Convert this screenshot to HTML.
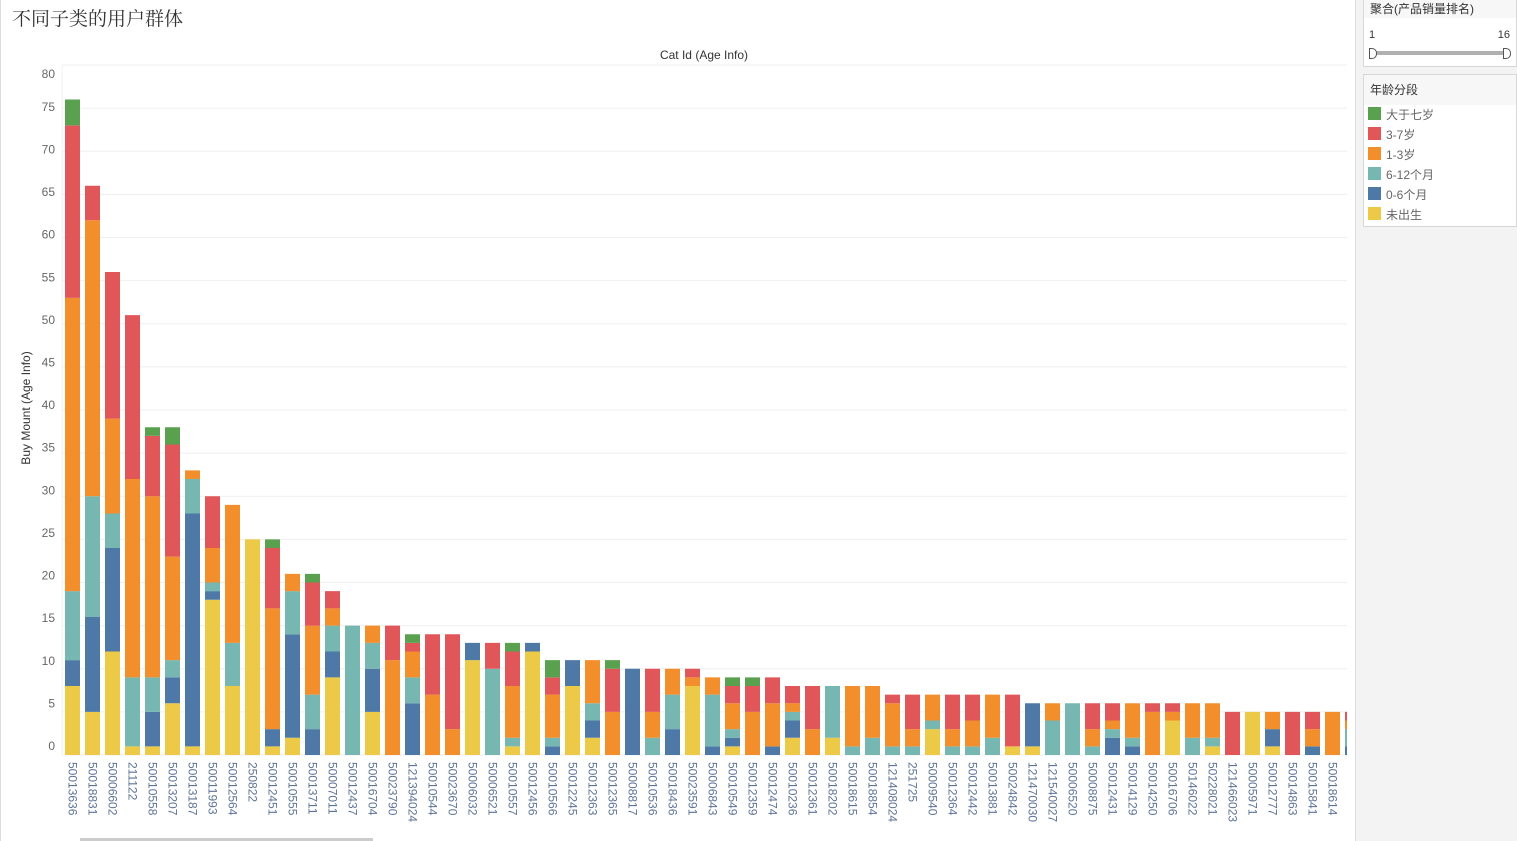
<!DOCTYPE html>
<html><head><meta charset="utf-8">
<style>
body{margin:0;width:1517px;height:841px;overflow:hidden;background:#fff;font-family:"Liberation Sans","Noto Sans CJK SC",sans-serif;}
#chart{position:absolute;left:0;top:0;}
.panel{position:absolute;left:1355px;top:0;width:162px;height:841px;background:#f3f3f3;border-left:1px solid #ddd;}
.card{position:absolute;left:7px;width:152px;background:#fff;border:1px solid #d8d8d8;}
.hdr{background:#f7f7f7;font-size:12px;color:#333;padding:2px 6px;height:16px;}
.li{position:relative;height:20px;font-size:12px;color:#666;}
.sw{position:absolute;left:4px;top:2px;width:13px;height:13px;}
.lt{position:absolute;left:22px;top:1px;}
</style></head><body>
<svg id="chart" width="1355" height="841"></svg>
<div style="position:absolute;left:0;top:0;width:1px;height:841px;background:#ddd"></div>
<div class="panel">
 <div class="card" style="top:-1px;height:66px">
  <div class="hdr" style="padding-top:0px">聚合(产品销量排名)</div>
  <div style="position:absolute;left:5px;top:29px;font-size:11px;color:#333">1</div>
  <div style="position:absolute;right:6px;top:29px;font-size:11px;color:#333">16</div>
  <div style="position:absolute;left:10px;top:51px;width:134px;height:4px;background:#b0b0b0"></div>
  <div style="position:absolute;left:5px;top:48px;width:6px;height:9px;border:1px solid #555;border-radius:0 5px 5px 0;background:#fff"></div>
  <div style="position:absolute;left:139px;top:48px;width:6px;height:9px;border:1px solid #555;border-radius:0 5px 5px 0;background:#fff"></div>
 </div>
 <div class="card" style="top:74px;height:151px">
  <div class="hdr" style="height:22px;padding-top:6px">年龄分段</div>
  <div id="legend"></div>
 </div>
</div>
<script>
const categories=["50013636","50018831","50006602","211122","50010558","50013207","50013187","50011993","50012564","250822","50012451","50010555","50013711","50007011","50012437","50016704","50023790","121394024","50010544","50023670","50006032","50006521","50010557","50012456","50010566","50012245","50012363","50012365","50008817","50010536","50018436","50023591","50006843","50010549","50012359","50012474","50010236","50012361","50018202","50018615","50018854","121408024","251725","50009540","50012364","50012442","50013881","50024842","121470030","121540027","50006520","50008875","50012431","50014129","50014250","50016706","50146022","50228021","121466023","50005971","50012777","50014863","50015841","50018614",""];
const unborn=[8,5,12,1,1,6,1,18,8,25,1,2,0,9,0,5,0,0,0,0,11,0,1,12,0,8,2,0,0,0,0,8,0,1,0,0,2,0,2,0,0,0,0,3,0,0,0,1,1,0,0,0,0,0,0,4,0,1,0,5,1,0,0,0,0];
const m0_6=[3,11,12,0,4,3,27,1,0,0,2,12,3,3,0,5,0,6,0,0,2,0,0,1,1,3,2,0,10,0,3,0,1,1,0,1,2,0,0,0,0,0,0,0,0,0,0,0,5,0,0,0,2,1,0,0,0,0,0,0,2,0,1,0,1];
const m6_12=[8,14,4,8,4,2,4,1,5,0,0,5,4,3,15,3,0,3,0,0,0,10,1,0,1,0,2,0,0,2,4,0,6,1,0,0,1,0,6,1,2,1,1,1,1,1,2,0,0,4,6,1,1,1,0,0,2,1,0,0,0,0,0,0,2];
const y1_3=[34,32,11,23,21,12,1,4,16,0,14,2,8,2,0,2,11,3,7,3,0,0,6,0,5,0,5,5,0,3,3,1,2,3,5,5,1,3,0,7,6,5,2,3,2,3,5,0,0,2,0,2,1,4,5,1,4,4,0,0,2,0,2,5,1];
const y3_7=[20,4,17,19,7,13,0,6,0,0,7,0,5,2,0,0,4,1,7,11,0,3,4,0,2,0,0,5,0,5,0,1,0,2,3,3,2,5,0,0,0,1,4,0,4,3,0,6,0,0,0,3,2,0,1,1,0,0,5,0,0,5,2,0,1];
const over7=[3,0,0,0,1,2,0,0,0,0,1,0,1,0,0,0,0,1,0,0,0,0,1,0,2,0,0,1,0,0,0,0,0,1,1,0,0,0,0,0,0,0,0,0,0,0,0,0,0,0,0,0,0,0,0,0,0,0,0,0,0,0,0,0,0];
const yTicks=[0,5,10,15,20,25,30,35,40,45,50,55,60,65,70,75,80];
const series=[["unborn","未出生",unborn,"#edc948"],["0-6m","0-6个月",m0_6,"#4e79a7"],["6-12m","6-12个月",m6_12,"#76b7b2"],["1-3y","1-3岁",y1_3,"#f28e2b"],["3-7y","3-7岁",y3_7,"#e15759"],["over7","大于七岁",over7,"#59a14f"]];
const NS="http://www.w3.org/2000/svg";
const svg=document.getElementById('chart');
const L=62,R=1347,T=65,B=755,YMAX=80;
const y=v=>B-(v/YMAX)*(B-T);
const x=i=>L+3+20*i;
function mk(tag,attrs,parent){const e=document.createElementNS(NS,tag);for(const k in attrs)e.setAttribute(k,attrs[k]);(parent||svg).appendChild(e);return e;}
const clip=mk('clipPath',{id:'pc'});mk('rect',{x:L,y:0,width:R-L,height:841},clip);
let t=mk('text',{x:12,y:25,'font-size':19,fill:'#333','font-family':'"Liberation Serif","Noto Serif CJK SC",serif'});t.textContent='不同子类的用户群体';

t=mk('text',{x:704,y:59,'font-size':12,fill:'#333','text-anchor':'middle'});t.textContent='Cat Id (Age Info)';

t=mk('text',{x:30,y:408,'font-size':12,fill:'#333','text-anchor':'middle',transform:'rotate(-90 30 408)'});t.textContent='Buy Mount (Age Info)';

yTicks.forEach(v=>{
 const g=mk('line',{x1:L,x2:R,y1:y(v),y2:y(v),stroke:'#efefef','stroke-width':1});
 
 const ly=Math.max(78, B-9-(v/YMAX)*(B-T)*0.988+4);
 const tl=mk('text',{x:55,y:ly,'font-size':12,fill:'#666','text-anchor':'end'});tl.textContent=v;
 
});
mk('line',{x1:L,x2:L,y1:T,y2:B,stroke:'#f0f0f0'});
const gb=mk('g',{'clip-path':'url(#pc)'});
categories.forEach((c,i)=>{
 let acc=0;
 series.forEach(s=>{
  const v=s[2][i];if(!v)return;
  const r=mk('rect',{x:x(i),y:y(acc+v),width:15,height:y(acc)-y(acc+v),fill:s[3]},gb);
  
  
  acc+=v;
 });
 if(c){
  const cx=x(i)+7.5;
  const lb=mk('text',{x:cx-4,y:762,'font-size':12,fill:'#5d7396',transform:`rotate(90 ${cx-4} 762)`});lb.textContent=c;
  
 }
});
const sb=mk('rect',{x:80,y:838,width:293,height:3,fill:'#ccc'});

const lg=document.getElementById('legend');
series.slice().reverse().forEach(s=>{
 const d=document.createElement('div');d.className='li';
 d.innerHTML=`<div class="sw" style="background:${s[3]}"></div><div class="lt">${s[1]}</div>`;
 
 
 lg.appendChild(d);
});
</script>
</body></html>
